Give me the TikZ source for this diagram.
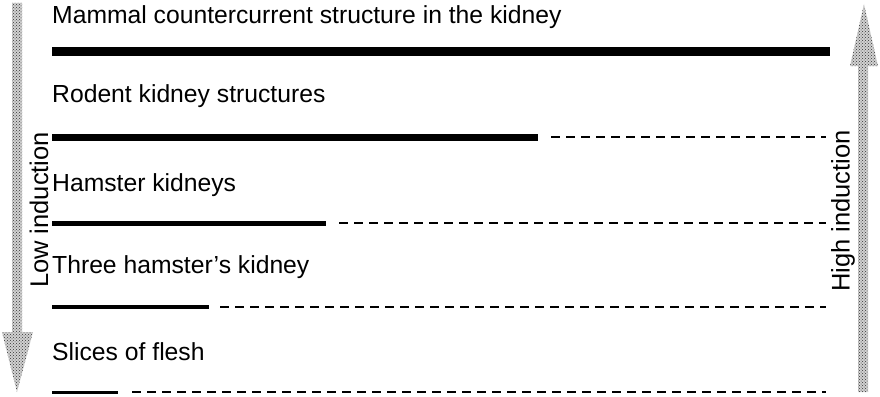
\documentclass[tikz,border=0pt]{standalone}
\usepackage{fontspec}
\setmainfont{Liberation Sans}
\usetikzlibrary{patterns}
\begin{document}
\begin{tikzpicture}[x=1pt,y=-1pt,
  lbl/.style={anchor=west,inner sep=0pt,font=\fontsize{24.7}{28}\selectfont},
  sidelbl/.style={inner sep=0pt,font=\fontsize{25.5}{28}\selectfont,rotate=90},
  solidbar/.style={line cap=butt},
  dashbar/.style={line width=2.2pt,dash pattern=on 9pt off 6pt},
  shadearrow/.style={draw=none,fill=black!18,postaction={pattern=crosshatch dots,pattern color=black!80}}]
\useasboundingbox (0,0) rectangle (880,396);
% shaded arrows
\path[shadearrow] (12,3) -- (22,3) -- (22,332) -- (33,332) -- (17,392) -- (2,332) -- (12,332) -- cycle;
\path[shadearrow] (858,392) -- (868,392) -- (868,66) -- (878,66) -- (864,4) -- (850,66) -- (858,66) -- cycle;
% labels
\node[lbl] (t1) at (52,17) {Mammal countercurrent structure in the kidney};
\node[lbl] (t2) at (52,96) {Rodent kidney structures};
\node[lbl] (t3) at (52,185) {Hamster kidneys};
\node[lbl] (t4) at (52,267) {Three hamster's kidney};
\node[lbl] (t5) at (52,352) {Slices of flesh};
\node[sidelbl] (low) at (39,210) {Low induction};
\node[sidelbl] (high) at (843,211) {High induction};
% bars
\coordinate (a1) at (52,52); \coordinate (b1) at (830,52);
\draw[solidbar,line width=9pt] (a1) -- (b1);
\coordinate (a2) at (52,137); \coordinate (b2) at (538,137);
\coordinate (c2) at (551,137); \coordinate (d2) at (826,137);
\draw[solidbar,line width=7pt] (a2) -- (b2);
\draw[dashbar] (c2) -- (d2);
\coordinate (a3) at (52,223); \coordinate (b3) at (326,223);
\coordinate (c3) at (339,223); \coordinate (d3) at (826,223);
\draw[solidbar,line width=5pt] (a3) -- (b3);
\draw[dashbar] (c3) -- (d3);
\coordinate (a4) at (52,307); \coordinate (b4) at (209,307);
\coordinate (c4) at (220,307); \coordinate (d4) at (826,307);
\draw[solidbar,line width=3.5pt] (a4) -- (b4);
\draw[dashbar] (c4) -- (d4);
\coordinate (a5) at (52,392); \coordinate (b5) at (118,392);
\coordinate (c5) at (132,392); \coordinate (d5) at (826,392);
\draw[solidbar,line width=3pt] (a5) -- (b5);
\draw[dashbar] (c5) -- (d5);
\end{tikzpicture}
\end{document}
